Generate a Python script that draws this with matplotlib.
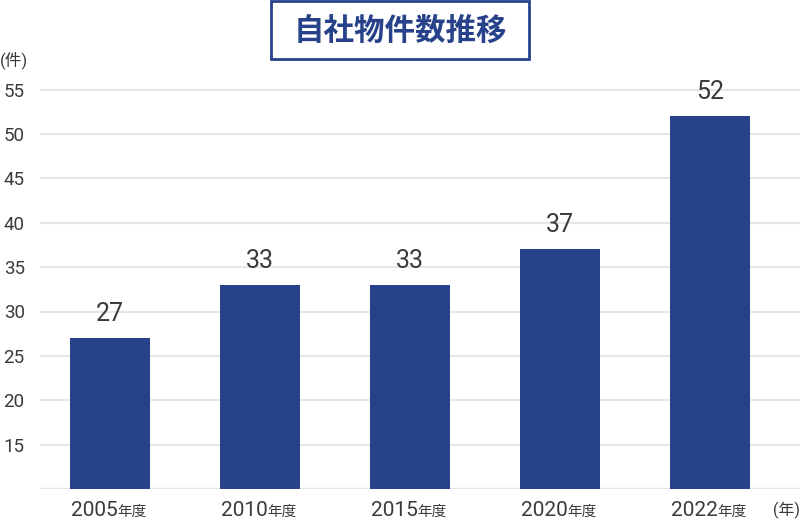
"""
自社物件数推移の棒グラフ。
"""

import re

import matplotlib

matplotlib.use("Agg")
import matplotlib.pyplot as plt
from matplotlib.patches import Rectangle

plt.rcParams["font.family"] = ["Roboto", "Noto Sans CJK JP", "DejaVu Sans"]

years = ["2005年度", "2010年度", "2015年度", "2020年度", "2022年度"]
counts = [27, 33, 33, 37, 52]
y_ticks = [15, 20, 25, 30, 35, 40, 45, 50, 55]

BAR_COLOR = "#27428a"
TEXT_COLOR = "#3a3a3a"
GRID_COLOR = "#e6e6e6"
PX = 72 / 100  # 1px をポイントに換算


def main():
    fig = plt.figure(figsize=(8, 5.2), dpi=100)
    W, H = 800, 520
    # 描画領域: x 40〜800px, y 63〜489px
    ax = fig.add_axes([40 / W, 1 - 489 / H, 760 / W, (489 - 63) / H])

    x = range(len(years))
    ax.set_axisbelow(True)
    ax.bar(x, counts, width=0.533, color=BAR_COLOR, zorder=2)

    for xi, v in zip(x, counts):
        ax.annotate(str(v), (xi, v), xytext=(0, 17 * PX), textcoords="offset points",
                    ha="center", va="baseline", fontsize=18, color=TEXT_COLOR)

    # 横軸ラベル: 数字と「年度」を別サイズで描く
    for xi, label in zip(x, years):
        num, unit = re.match(r"(\d+)(.*)", label).groups()
        ax.annotate(num, (xi, 10), xytext=(7.5 * PX, -27 * PX), textcoords="offset points",
                    ha="right", va="baseline", fontsize=15, color=TEXT_COLOR,
                    annotation_clip=False)
        ax.annotate(unit, (xi, 10), xytext=(7.5 * PX, -27 * PX), textcoords="offset points",
                    ha="left", va="baseline", fontsize=10.5, color=TEXT_COLOR,
                    family=["Noto Sans CJK JP", "DejaVu Sans"], annotation_clip=False)

    ax.set_xlim(-0.4667, 4.6)
    ax.set_ylim(10, 58)
    ax.set_yticks(y_ticks)
    ax.set_yticklabels([str(t) for t in y_ticks])
    ax.set_xticks([])

    ax.yaxis.grid(True, color=GRID_COLOR, linewidth=1.5)
    ax.axhline(10, color=GRID_COLOR, linewidth=2.5, zorder=1)
    for s in ax.spines.values():
        s.set_visible(False)
    ax.tick_params(axis="y", length=0, pad=11, labelsize=13.5, labelcolor=TEXT_COLOR)

    # 単位表示
    fig.text(0 / W, 1 - 60 / H, "(件)", ha="left", va="center",
             fontsize=12, color=TEXT_COLOR)
    fig.text(800 / W, 1 - 510 / H, "(年)", ha="right", va="center",
             fontsize=11.5, color=TEXT_COLOR)

    # タイトル枠
    fig.patches.append(Rectangle((271 / W, 1 - 59 / H), 258 / W, 58 / H,
                                 transform=fig.transFigure, fill=False,
                                 edgecolor=BAR_COLOR, linewidth=2))
    fig.text(400 / W, 1 - 31 / H, "自社物件数推移", ha="center", va="center",
             fontsize=22, fontweight="bold", color=BAR_COLOR,
             family=["Noto Sans CJK JP", "DejaVu Sans"])

    fig.savefig("out.png", dpi=100)
    plt.close("all")


if __name__ == "__main__":
    main()
